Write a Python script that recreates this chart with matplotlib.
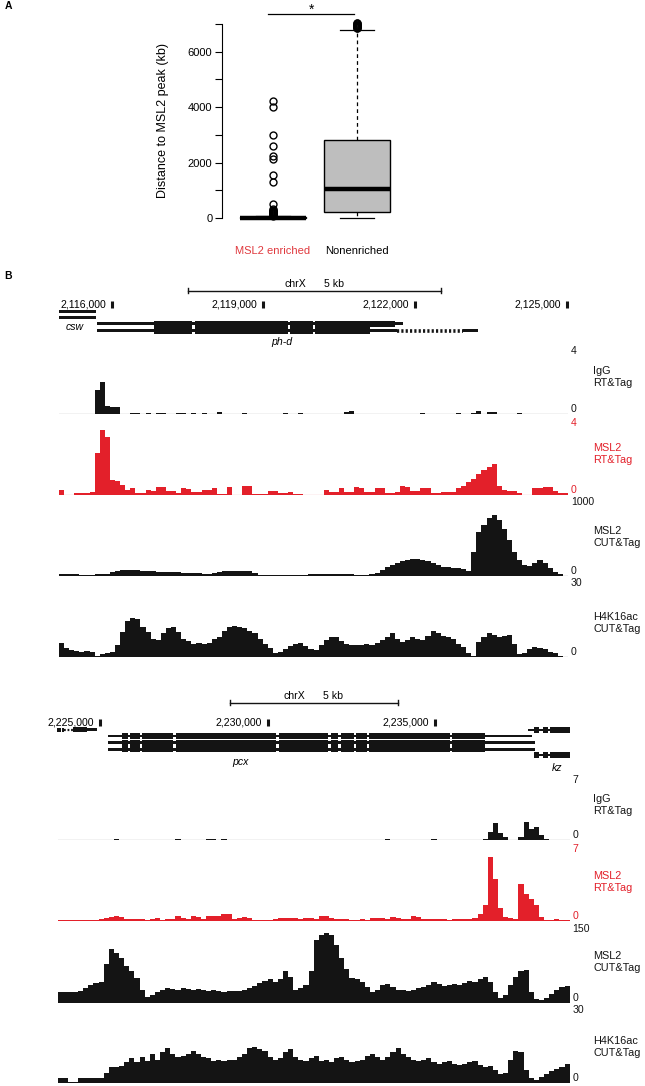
import numpy as np
import matplotlib
matplotlib.use('Agg')
import matplotlib.pyplot as plt
from matplotlib.patches import Rectangle

plt.rcParams['font.family'] = ['Liberation Sans', 'DejaVu Sans']

# ---------------- data ----------------
# panel A: boxplot summary (kb)
groups = ['MSL2 enriched', 'Nonenriched']
box_q1 = [0, 210]
box_med = [10, 1060]
box_q3 = [30, 2830]
whisk_lo = [0, 0]
whisk_hi = [60, 6790]
fliers_enriched = [4230, 4000, 2990, 2590, 2230, 2140, 1550, 1300, 490,
                   320, 290, 270, 250, 230, 210, 190, 170, 150, 130, 110, 90]
fliers_nonenriched = [6840, 6860, 6880, 6900, 6920, 6940, 6960, 6980, 7000, 7020, 7040]

# panel B, region 1 (chrX:2,114,959-2,125,029)
top_start, top_end = 2114959, 2125029
top_ticks = [2116000, 2119000, 2122000, 2125000]
top_scalebar = (2117519, 2122519)
csw_span = (2114959, 2115691)
phd_utr5 = (2115717, 2116845)
phd_exons_tx1 = [(2116845, 2117600), (2117640, 2119480), (2119520, 2119975), (2120015, 2121606)]
phd_utr3_tx1 = (2121606, 2121764)
phd_exons_tx2 = [(2116845, 2117600), (2117640, 2119480), (2119520, 2119975), (2120015, 2121111)]
phd_utr3_tx2 = (2121111, 2121645)
phd_intron_tx2 = (2121645, 2122950)
phd_last_tx2 = (2122950, 2123248)

top_igg = [0, 0, 0, 0, 0, 0, 0, 1.4, 1.9, 0.5,
           0.43, 0.4, 0, 0, 0.08, 0.08, 0, 0.06, 0, 0.08,
           0.05, 0, 0, 0.08, 0.06, 0, 0.05, 0, 0.07, 0,
           0, 0.1, 0, 0, 0, 0, 0.05, 0, 0, 0,
           0, 0, 0, 0, 0.05, 0, 0, 0.05, 0, 0,
           0, 0, 0, 0, 0, 0, 0.12, 0.15, 0, 0,
           0, 0, 0, 0, 0, 0, 0, 0, 0, 0,
           0, 0.06, 0, 0, 0, 0, 0, 0, 0.06, 0,
           0, 0.05, 0.2, 0, 0.1, 0.1, 0, 0, 0, 0,
           0.06, 0, 0, 0, 0, 0, 0, 0, 0, 0]
top_msl2_rt = [0.26, 0, 0, 0.1, 0.1, 0.1, 0.17, 2.2, 3.4, 3.0,
               0.8, 0.75, 0.5, 0.26, 0.35, 0.1, 0.1, 0.26, 0.2, 0.43,
               0.43, 0.21, 0.2, 0.1, 0.35, 0.3, 0.17, 0.17, 0.26, 0.26,
               0.35, 0.05, 0.05, 0.4, 0, 0, 0.47, 0.45, 0.03, 0.03,
               0.03, 0.21, 0.21, 0.12, 0.12, 0.17, 0.05, 0.05, 0, 0,
               0, 0, 0.26, 0.17, 0.17, 0.35, 0.17, 0.17, 0.43, 0.35,
               0.17, 0.17, 0.35, 0.35, 0.12, 0.12, 0.14, 0.47, 0.4, 0.21,
               0.21, 0.35, 0.35, 0.1, 0.1, 0.17, 0.17, 0.17, 0.38, 0.45,
               0.65, 0.85, 1.1, 1.3, 1.45, 1.6, 0.45, 0.26, 0.21, 0.21,
               0.12, 0, 0, 0.35, 0.35, 0.4, 0.43, 0.2, 0.1, 0.1]
top_msl2_cut = [30, 25, 20, 20, 15, 15, 15, 20, 25, 25,
                45, 60, 80, 82, 78, 72, 66, 62, 58, 55,
                52, 50, 48, 46, 44, 42, 40, 36, 30, 22,
                35, 55, 60, 62, 60, 63, 65, 60, 40, 15,
                10, 10, 8, 8, 10, 12, 15, 15, 18, 20,
                20, 25, 22, 24, 25, 25, 22, 20, 18, 15,
                18, 25, 40, 75, 110, 140, 170, 190, 205, 212,
                210, 200, 185, 165, 140, 120, 108, 102, 98, 90,
                60, 300, 560, 650, 740, 770, 710, 590, 450, 300,
                200, 140, 130, 170, 205, 160, 100, 55, 20, 5]
top_h4k16ac = [5.4, 3.5, 2.5, 2.2, 2.0, 2.2, 1.8, 0.4, 1.0, 1.5,
               2.0, 4.5, 9.6, 13.5, 15.0, 14.5, 11.5, 9.5, 7.0, 6.5,
               9.0, 11.0, 11.5, 9.5, 7.0, 6.0, 5.0, 5.2, 5.0, 5.5,
               7.0, 7.7, 10.0, 11.5, 11.8, 11.5, 11.0, 10.0, 9.0, 7.0,
               5.0, 3.5, 1.5, 2.0, 3.0, 4.0, 5.0, 5.2, 4.0, 3.0,
               2.8, 4.5, 6.5, 7.7, 7.5, 6.0, 5.0, 4.6, 4.5, 4.6,
               4.8, 4.6, 5.5, 6.5, 7.5, 9.0, 7.0, 5.8, 6.5, 7.7,
               7.0, 6.5, 8.0, 10.0, 9.0, 8.0, 7.7, 7.0, 5.0, 3.9,
               1.5, 0.2, 5.8, 7.5, 9.0, 8.5, 7.5, 8.0, 8.4, 5.0,
               1.2, 1.5, 3.0, 3.9, 3.5, 3.0, 2.0, 1.5, 0.5, 0]

# panel B, region 2 (chrX:2,223,734-2,239,021)
bot_start, bot_end = 2223734, 2239021
bot_ticks = [2225000, 2230000, 2235000]
bot_scalebar = (2228881, 2233881)
left_gene_small = [(2223707, 2223827), (2223860, 2223925)]
left_gene_dotted = (2223925, 2224203)
left_gene_block = (2224203, 2224603)
left_gene_utr = (2224603, 2224901)
pcx_utr5 = (2225239, 2225657)
pcx_exons = [(2225657, 2225830), (2225884, 2226194), (2226254, 2227173), (2227269, 2230266),
             (2230343, 2231803), (2231896, 2232104), (2232182, 2232576), (2232642, 2232970),
             (2233042, 2235436), (2235522, 2236504)]
pcx_utr3_ends = [2237881, 2237979, 2237979]
kz_lead = (2237785, 2237955)
kz_exons = [(2237955, 2238113), (2238233, 2238382), (2238433, 2239051)]

bot_igg = [0, 0, 0, 0, 0, 0, 0, 0, 0, 0,
           0, 0.08, 0, 0, 0, 0, 0, 0, 0, 0,
           0, 0, 0, 0.06, 0, 0, 0, 0, 0, 0.1,
           0.1, 0, 0.08, 0, 0, 0, 0, 0, 0, 0,
           0, 0, 0, 0, 0, 0, 0, 0, 0, 0,
           0, 0, 0, 0, 0, 0, 0, 0, 0, 0,
           0, 0, 0, 0, 0.06, 0, 0, 0, 0, 0,
           0, 0, 0, 0.08, 0, 0, 0, 0, 0, 0,
           0, 0, 0.05, 0.15, 0.9, 1.85, 0.8, 0.3, 0.05, 0.05,
           0.3, 1.9, 1.2, 1.4, 0.5, 0.1, 0.05, 0.05, 0, 0]
bot_msl2_rt = [0.12, 0.12, 0.12, 0.12, 0.12, 0.12, 0.12, 0.12, 0.2, 0.3,
               0.35, 0.5, 0.4, 0.2, 0.15, 0.2, 0.2, 0.12, 0.15, 0.3,
               0.12, 0.15, 0.2, 0.42, 0.3, 0.15, 0.42, 0.35, 0.2, 0.5,
               0.45, 0.42, 0.67, 0.6, 0.15, 0.3, 0.36, 0.25, 0.12, 0.12,
               0.12, 0.1, 0.15, 0.3, 0.3, 0.25, 0.3, 0.15, 0.3, 0.28,
               0.2, 0.45, 0.42, 0.3, 0.2, 0.2, 0.15, 0.12, 0.12, 0.15,
               0.12, 0.27, 0.25, 0.3, 0.15, 0.36, 0.3, 0.15, 0.2, 0.42,
               0.4, 0.2, 0.15, 0.2, 0.15, 0.15, 0.12, 0.2, 0.15, 0.2,
               0.2, 0.3, 0.67, 1.5, 5.8, 3.8, 1.2, 0.36, 0.3, 0.2,
               3.4, 2.5, 2.0, 1.5, 0.4, 0.12, 0.12, 0.2, 0.12, 0.1]
bot_msl2_cut = [21, 21, 21, 20, 22, 28, 35, 38, 40, 75,
                103, 95, 85, 70, 60, 48, 25, 12, 15, 20,
                25, 28, 27, 25, 28, 27, 25, 27, 24, 22,
                24, 22, 20, 22, 23, 22, 24, 28, 32, 38,
                42, 45, 40, 45, 60, 50, 25, 28, 35, 60,
                120, 130, 132, 130, 110, 85, 65, 48, 45, 40,
                30, 20, 25, 35, 37, 30, 25, 24, 22, 25,
                28, 30, 35, 40, 36, 32, 35, 37, 35, 38,
                42, 40, 45, 49, 40, 20, 10, 15, 35, 50,
                60, 62, 20, 8, 5, 10, 18, 25, 30, 32]
bot_h4k16ac = [1.8, 1.8, 0.5, 0.5, 1.8, 1.8, 1.8, 1.8, 2.0, 3.7,
               6.3, 6.0, 6.5, 8, 9.5, 8, 10, 8.5, 11, 9,
               12, 13.5, 11, 10, 10.5, 11, 12.5, 11, 10, 9.5,
               8.5, 9, 8.5, 9, 9, 10, 11, 13.5, 14, 13,
               12.5, 10, 9, 9.5, 12, 13, 10, 9, 8.5, 9.5,
               10.5, 8.5, 9, 8, 9.5, 10, 9, 8, 8.5, 9,
               10.5, 11, 10, 9, 10, 12, 13.5, 11, 10, 9,
               8.5, 9, 9.5, 8, 7.5, 8, 8.5, 7.5, 7, 7.5,
               8, 8.5, 7, 6, 6.5, 5, 3.5, 4, 9, 12.5,
               12, 5, 2, 1.2, 2.5, 3.5, 4.5, 5.5, 6, 7.5]

RED = '#e3202a'
BLK = '#141414'

W, H = 645, 1086
fig = plt.figure(figsize=(W / 100, H / 100), dpi=100)


def add_ax(left, top, right, bottom):
    return fig.add_axes([left / W, 1 - bottom / H, (right - left) / W, (bottom - top) / H])


def ftext(x, y, s, **kw):
    fig.text(x / W, 1 - y / H, s, **kw)


# ---------------- panel A ----------------
axA = add_ax(222, 24, 400, 218)
stats = []
for g, q1, m, q3, lo, hi, fl in zip(groups, box_q1, box_med, box_q3, whisk_lo, whisk_hi,
                                    [fliers_enriched, fliers_nonenriched]):
    stats.append(dict(label=g, q1=q1, med=m, q3=q3, whislo=lo, whishi=hi, fliers=fl))
bp = axA.bxp(stats, positions=[1, 2], widths=0.79, capwidths=0.4, patch_artist=True,
             boxprops=dict(facecolor='#bebebe', edgecolor='black', linewidth=1.0),
             medianprops=dict(color='black', linewidth=3.2, solid_capstyle='butt'),
             whiskerprops=dict(color='black', linewidth=0.9, linestyle=(0, (3, 2.5))),
             capprops=dict(color='black', linewidth=0.9),
             flierprops=dict(marker='o', markerfacecolor='none', markeredgecolor='black',
                             markersize=5, markeredgewidth=1.0))
for k in bp:
    for art in bp[k]:
        art.set_clip_on(False)
axA.set_xlim(0.393, 2.512)
axA.set_ylim(0, 7000)
for s in ['top', 'right', 'bottom']:
    axA.spines[s].set_visible(False)
axA.spines['left'].set_linewidth(0.8)
axA.set_yticks(range(0, 7001, 1000))
axA.set_yticklabels(['0', '', '2000', '', '4000', '', '6000', ''])
axA.tick_params(axis='y', length=5, width=0.8, labelsize=8, pad=2)
axA.set_xticks([1, 2])
axA.set_xticklabels(groups)
axA.tick_params(axis='x', length=0, labelsize=8, pad=20)
axA.get_xticklabels()[0].set_color('#e0393e')
axA.set_ylabel('Distance to MSL2 peak (kb)', fontsize=9)
axA.yaxis.set_label_coords(-0.30, 0.5)
axA.plot([0.94, 1.965], [7360, 7360], color='black', lw=0.9, clip_on=False)
axA.text(1.46, 7520, '*', ha='center', va='center', fontsize=10)

ftext(5, 6, 'A', fontsize=7.5, fontweight='bold', va='center')
ftext(4, 276, 'B', fontsize=7.5, fontweight='bold', va='center')


# ---------------- panel B helpers ----------------
def rect(ax, s, e, y, h, **kw):
    ax.add_patch(Rectangle((s, y - h / 2), e - s, h, facecolor=BLK, edgecolor='none', **kw))


def gene_axes(left, top, right, bottom, start, end):
    ax = add_ax(left, top, right, bottom)
    ax.set_xlim(start, end)
    ax.set_ylim(bottom, top)
    ax.axis('off')
    return ax


def coords_row(ax, ticks, y):
    for t in ticks:
        ax.plot([t, t], [y - 3.5, y + 3.5], color=BLK, lw=2.2, solid_capstyle='butt', clip_on=False)
        ax.annotate(f'{t:,}', xy=(t, y), xytext=(-4, 0), textcoords='offset points',
                    ha='right', va='center', fontsize=7.6, annotation_clip=False)


def scalebar(ax, span, y):
    a, b = span
    ax.plot([a, b], [y, y], color=BLK, lw=1.0)
    ax.plot([a, a], [y - 2.5, y + 2.5], color=BLK, lw=1.0)
    ax.plot([b, b], [y - 2.5, y + 2.5], color=BLK, lw=1.0)
    mid = (a + b) / 2
    ax.annotate('chrX', xy=(mid, y - 7), xytext=(-6, 0), textcoords='offset points',
                ha='right', va='center', fontsize=7.6)
    ax.annotate('5 kb', xy=(mid, y - 7), xytext=(7, 0), textcoords='offset points',
                ha='left', va='center', fontsize=7.6)


def track(left, top, right, bottom, start, end, values, vmax, color, name, label_y):
    ax = add_ax(left, top, right, bottom)
    edges = np.linspace(start, end, len(values) + 1)
    ax.stairs(values, edges, fill=True, color=color, lw=0)
    ax.axhline(0, color=color, lw=0.8)
    ax.set_xlim(start, end)
    ax.set_ylim(0, vmax)
    ax.axis('off')
    ax.annotate(f'{vmax:g}', xy=(1, 1), xycoords='axes fraction', xytext=(2, 0),
                textcoords='offset points', ha='left', va='top', fontsize=7.6, color=color)
    ax.annotate('0', xy=(1, 0), xycoords='axes fraction', xytext=(2, 0),
                textcoords='offset points', ha='left', va='bottom', fontsize=7.6, color=color)
    ftext(593, label_y, name, fontsize=7.8, color=color, ha='left', va='center')
    return ax


# ---------------- region 1 ----------------
g1 = gene_axes(59, 276, 568, 362, top_start, top_end)
scalebar(g1, top_scalebar, 291)
coords_row(g1, top_ticks, 304.5)
for y in [311.7, 317.7]:
    rect(g1, csw_span[0], csw_span[1], y, 3.2, clip_on=False)
g1.text(2115276, 327, 'csw', style='italic', fontsize=7.6, ha='center', va='center')
# ph-d transcript 1
y1, y2 = 323.8, 330.6
rect(g1, phd_utr5[0], phd_exons_tx1[-1][1], y1, 2.6)
for s, e in phd_exons_tx1:
    rect(g1, s, e, y1, 6.4)
rect(g1, phd_utr3_tx1[0], phd_utr3_tx1[1], y1, 3.4)
# ph-d transcript 2
rect(g1, phd_utr5[0], phd_utr3_tx2[1], y2, 2.6)
for s, e in phd_exons_tx2:
    rect(g1, s, e, y2, 6.4)
g1.plot(list(phd_intron_tx2), [y2, y2], color=BLK, lw=2.6, ls=(0, (0.6, 0.6)), solid_capstyle='butt')
rect(g1, phd_last_tx2[0], phd_last_tx2[1], y2, 3.6)
g1.text(2119365, 342, 'ph-d', style='italic', fontsize=7.6, ha='center', va='center')

track(59, 346, 568, 414, top_start, top_end, top_igg, 4, BLK, 'IgG\nRT&Tag', 377)
track(59, 418, 568, 495, top_start, top_end, top_msl2_rt, 4, RED, 'MSL2\nRT&Tag', 454)
track(59, 497, 568, 576, top_start, top_end, top_msl2_cut, 1000, BLK, 'MSL2\nCUT&Tag', 537)
track(59, 578, 568, 657, top_start, top_end, top_h4k16ac, 30, BLK, 'H4K16ac\nCUT&Tag', 623)

# ---------------- region 2 ----------------
g2 = gene_axes(57.6, 688, 569.7, 772, bot_start, bot_end)
scalebar(g2, bot_scalebar, 702.7)
coords_row(g2, bot_ticks, 722.5)
# small gene on the left
yl = 729.6
for s, e in left_gene_small:
    rect(g2, s, e, yl, 4.0, clip_on=False)
g2.plot(list(left_gene_dotted), [yl, yl], color=BLK, lw=1.6, ls=(0, (0.8, 0.8)))
rect(g2, left_gene_block[0], left_gene_block[1], yl, 5.6)
rect(g2, left_gene_utr[0], left_gene_utr[1], yl, 2.6)
# pcx, three transcripts
for y, end3 in zip([736.0, 742.7, 749.4], pcx_utr3_ends):
    rect(g2, pcx_utr5[0], end3, y, 2.6)
    for s, e in pcx_exons:
        rect(g2, s, e, y, 6.0)
g2.text(2229179, 762, 'pcx', style='italic', fontsize=7.6, ha='center', va='center')
# kz, two transcripts
for y, lead in [(730.0, True), (755.0, False)]:
    if lead:
        rect(g2, kz_lead[0], kz_lead[1], y, 2.6)
    rect(g2, kz_exons[0][0], kz_exons[-1][1], y, 2.6)
    for s, e in kz_exons:
        rect(g2, s, e, y, 5.4)
g2.text(2238633, 768, 'kz', style='italic', fontsize=7.6, ha='center', va='center')

track(57.6, 775, 569.7, 840, bot_start, bot_end, bot_igg, 7, BLK, 'IgG\nRT&Tag', 805)
track(57.6, 844, 569.7, 921, bot_start, bot_end, bot_msl2_rt, 7, RED, 'MSL2\nRT&Tag', 882)
track(57.6, 924, 569.7, 1003, bot_start, bot_end, bot_msl2_cut, 150, BLK, 'MSL2\nCUT&Tag', 962)
track(57.6, 1005, 569.7, 1083, bot_start, bot_end, bot_h4k16ac, 30, BLK, 'H4K16ac\nCUT&Tag', 1047)

fig.savefig('out.png', dpi=100)
